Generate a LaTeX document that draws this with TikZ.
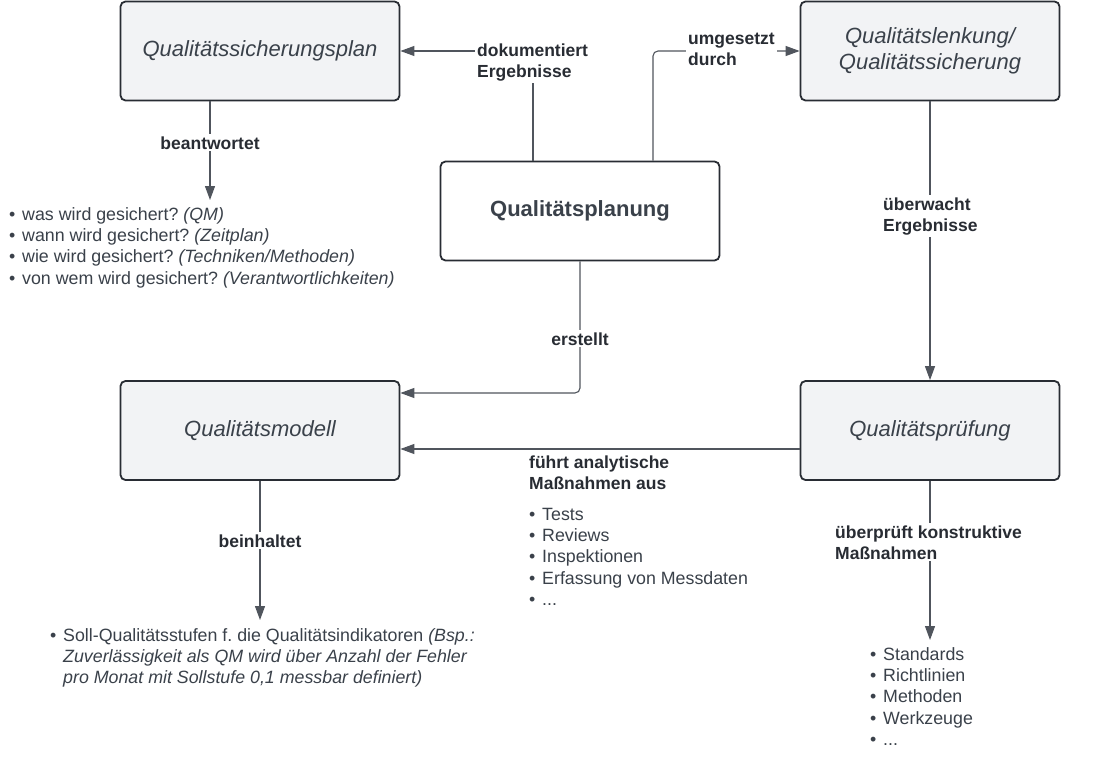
\documentclass[tikz,border=0pt]{standalone}
\usepackage{fontspec}
\setmainfont{Liberation Sans}
\usetikzlibrary{arrows.meta}
\frenchspacing
\definecolor{boxfill}{HTML}{F2F3F5}
\definecolor{boxline}{HTML}{282C33}
\definecolor{txtcol}{HTML}{3A414A}
\definecolor{lblcol}{HTML}{282C33}
\definecolor{conncol}{HTML}{50555D}
\newcommand{\firstln}{\rule{0pt}{13pt}}
\newcommand{\bul}{\makebox[13pt][l]{•}}
\newcommand{\bulind}{\hspace*{13pt}}
\begin{document}
\begin{tikzpicture}[x=1pt,y=-1pt,
  box/.style={draw=boxline, line width=1.8pt, rounded corners=5pt, fill=boxfill,
    minimum width=279pt, minimum height=99pt, inner sep=0pt, text=txtcol,
    font=\fontsize{22}{26.4}\selectfont\itshape, align=center},
  conn/.style={draw=conncol, line width=1.1pt, -{Triangle[length=14pt,width=10pt]}},
  lbl/.style={font=\fontsize{17.5}{21}\selectfont\bfseries, text=lblcol, fill=white,
    inner sep=2pt, align=left},
  blist/.style={font=\fontsize{17.8}{21.3}\selectfont, text=txtcol, inner sep=0pt,
    align=left, anchor=north west}]
\useasboundingbox (0,0) rectangle (1100,784);
\fill[white] (0,0) rectangle (1100,784);

% boxes
\node[box] (qsp) at (260,51) {Qualitätssicherungsplan};
\node[box, minimum width=259pt] (ql) at (930,51) {Qualitätslenkung/\\Qualitätssicherung};
\node[box, fill=white, font=\fontsize{22}{26.4}\selectfont\bfseries, text=txtcol] (plan) at (580,211) {Qualitätsplanung};
\node[box] (qm) at (260,430.5) {Qualitätsmodell};
\node[box, minimum width=259pt] (qp) at (930,430.5) {Qualitätsprüfung};

% free ends
\coordinate (e1) at (210,200);
\coordinate (e2) at (260,620);
\coordinate (e3) at (930,640);

% connectors
\draw[conn] ([xshift=-47pt]plan.north) |- (qsp.east);
\draw[conn, rounded corners=5pt] ([xshift=73pt]plan.north) |- (ql.west);
\draw[conn, rounded corners=5pt] (plan.south) |- ([yshift=37.5pt]qm.east);
\draw[conn] ([yshift=-18.5pt]qp.west) -- ([yshift=-18.5pt]qm.east);
\draw[conn] (ql.south) -- (qp.north);
\draw[conn] ([xshift=-50pt]qsp.south) -- (e1);
\draw[conn] (qm.south) -- (e2);
\draw[conn] (qp.south) -- (e3);

% connector labels
\node[lbl, anchor=north west] (ldok) at (475,41) {\firstln dokumentiert\\Ergebnisse};
\node[lbl, anchor=north west] (lumg) at (686,29) {\firstln umgesetzt\\durch};
\node[lbl, anchor=north west] (lueb) at (881,195) {\firstln überwacht\\Ergebnisse};
\node[lbl, anchor=base] (lbeant) at (210,149) {beantwortet};
\node[lbl, anchor=base] (lbein) at (260,547) {beinhaltet};
\node[lbl, anchor=base] (lerst) at (580,345) {erstellt};
\node[lbl, anchor=north west, fill=none, inner sep=0pt] (lfuehrt) at (529,455) {\firstln führt analytische\\Maßnahmen aus};
\node[lbl, anchor=north west] (lpruef) at (833,523) {\firstln überprüft konstruktive\\Maßnahmen};

% lists
\node[blist] (list1) at (9,207) {\firstln\bul was wird gesichert? \textit{(QM)}\\
\bul wann wird gesichert? \textit{(Zeitplan)}\\
\bul wie wird gesichert? \textit{(Techniken/Methoden)}\\
\bul von wem wird gesichert? \textit{(Verantwortlichkeiten)}};
\node[blist] (list2) at (529,507) {\firstln\bul Tests\\
\bul Reviews\\
\bul Inspektionen\\
\bul Erfassung von Messdaten\\
\bul ...};
\node[blist] (list3) at (870,647) {\firstln\bul Standards\\
\bul Richtlinien\\
\bul Methoden\\
\bul Werkzeuge\\
\bul ...};
\node[blist] (list4) at (50,628) {\firstln\bul Soll-Qualitätsstufen f. die Qualitätsindikatoren \textit{(Bsp.:}\\
\bulind\textit{Zuverlässigkeit als QM wird über Anzahl der Fehler}\\
\bulind\textit{pro Monat mit Sollstufe 0,1 messbar definiert)}};
\end{tikzpicture}
\end{document}
